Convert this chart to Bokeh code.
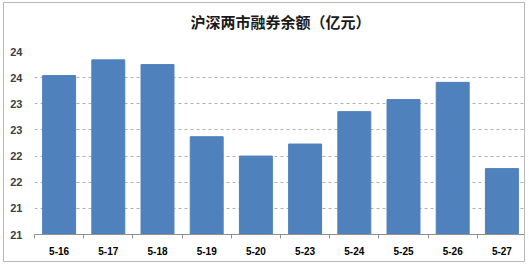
from bokeh.plotting import figure
from bokeh.models import FixedTicker, Range1d
from bokeh.embed import file_html
from bokeh.resources import INLINE
import numpy as np

title_text = "沪深两市融券余额（亿元）"
dates = ["5-16", "5-17", "5-18", "5-19", "5-20", "5-23", "5-24", "5-25", "5-26", "5-27"]
values = [24.04, 24.34, 24.25, 22.87, 22.50, 22.73, 23.35, 23.58, 23.91, 22.26]
y_ticks = [21.0, 21.5, 22.0, 22.5, 23.0, 23.5, 24.0, 24.5]
y_tick_labels = ["21", "21", "22", "22", "23", "23", "24", "24"]

xpos = np.arange(len(dates)) + 0.5

p = figure(width=522, height=260, output_backend="svg", toolbar_location=None,
           x_range=Range1d(0, len(dates)), y_range=Range1d(y_ticks[0], y_ticks[-1]),
           min_border_left=30, min_border_right=0, min_border_top=46, min_border_bottom=29)
p.styles = {"border": "1px solid #b8b8b8", "margin-left": "3px", "margin-top": "2px"}

# trailing blank line lifts the title away from the plot area
p.title.text = title_text + "\n "
p.title.align = "center"
p.title.text_font = "Noto Sans CJK SC"
p.title.text_font_size = "15px"
p.title.text_font_style = "bold"
p.title.text_color = "#1a1a1a"
p.title.text_line_height = 0.7

p.vbar(x=xpos, top=values, bottom=y_ticks[0], width=0.67, fill_color="#4F81BD", line_color="#4F81BD")

p.outline_line_color = None
p.xgrid.grid_line_color = None
p.ygrid.grid_line_color = "#b0b0b0"
p.ygrid.grid_line_dash = "3 3"
p.ygrid.ticker = FixedTicker(ticks=y_ticks)

p.yaxis.ticker = FixedTicker(ticks=y_ticks)
p.yaxis.major_label_overrides = {t: l for t, l in zip(y_ticks, y_tick_labels)}
p.yaxis.axis_line_color = None
p.yaxis.major_tick_line_color = None
p.yaxis.major_tick_out = 0
p.yaxis.minor_tick_line_color = None
p.yaxis.minor_tick_out = 0
p.yaxis.major_label_standoff = 12
p.yaxis.major_label_text_font = "Liberation Sans"
p.yaxis.major_label_text_font_style = "bold"
p.yaxis.major_label_text_font_size = "11px"
p.yaxis.major_label_text_color = "#404040"

p.xaxis.ticker = FixedTicker(ticks=list(xpos), minor_ticks=list(range(len(dates) + 1)))
p.xaxis.major_label_overrides = {float(x): d for x, d in zip(xpos, dates)}
p.xaxis.axis_line_color = "#909090"
p.xaxis.major_tick_line_color = None
p.xaxis.major_tick_out = 0
p.xaxis.minor_tick_line_color = "#909090"
p.xaxis.minor_tick_in = 0
p.xaxis.minor_tick_out = 4
p.xaxis.major_label_standoff = 8
p.xaxis.major_label_text_font = "Liberation Sans"
p.xaxis.major_label_text_font_style = "bold"
p.xaxis.major_label_text_font_size = "10px"
p.xaxis.major_label_text_color = "#000000"

open("out.html", "w").write(file_html(p, INLINE))
